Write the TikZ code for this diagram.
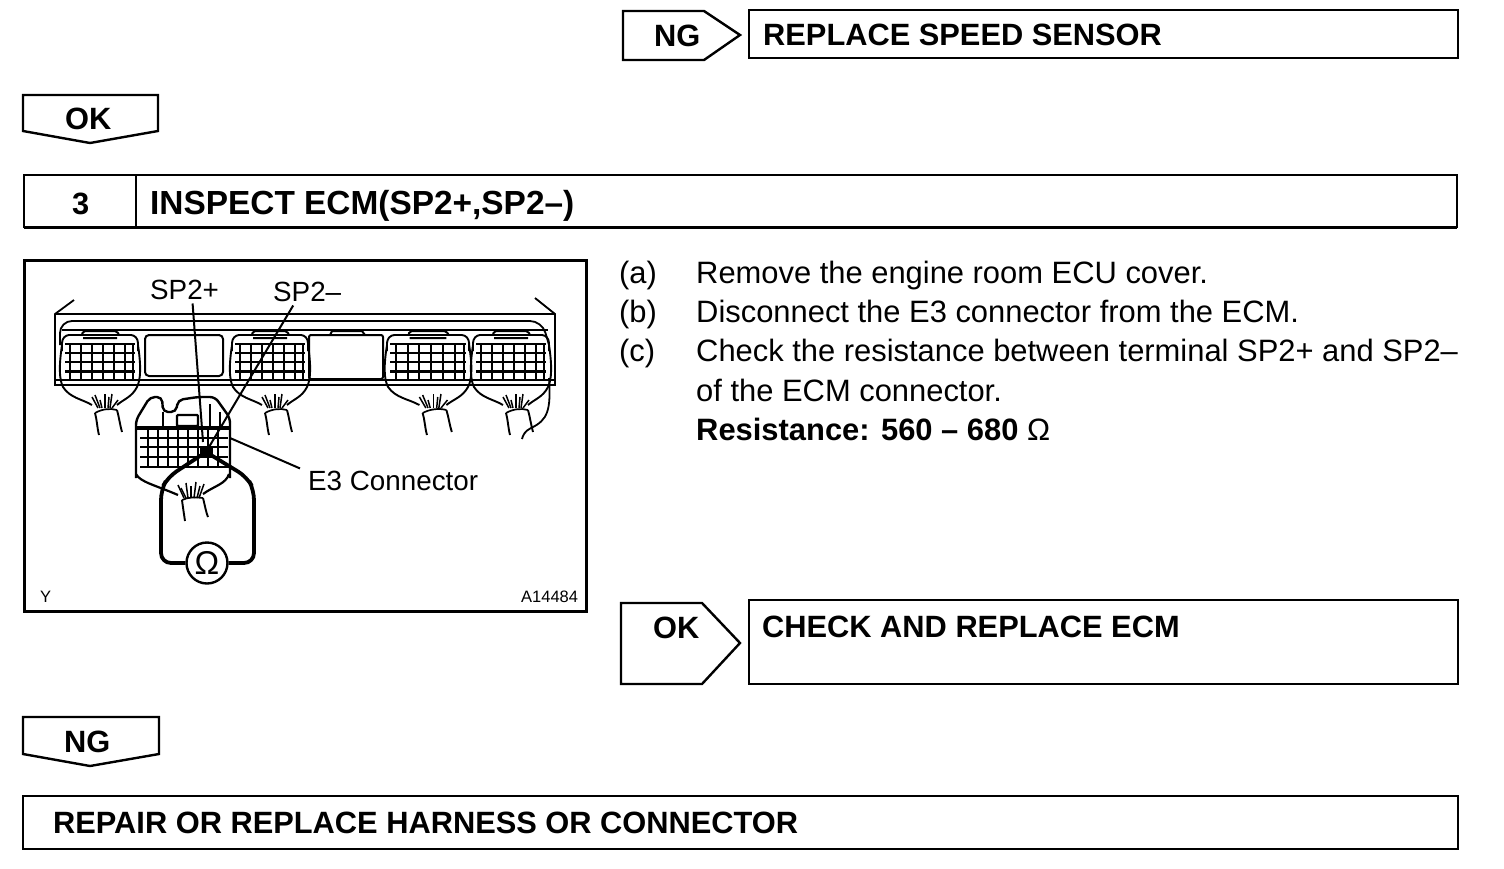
\documentclass[tikz,border=0pt]{standalone}
\usepackage{fontspec}
\setmainfont{Liberation Sans}
\tikzset{
    panel/.style = {draw, line width = 2.2pt, inner sep = 0pt, outer sep = 0pt},
    tagline/.style = {draw, line width = 2.4pt, line join = miter},
    boldtext/.style = {anchor = base west, inner sep = 0pt, font = \fontsize{30.8}{36}\selectfont\bfseries},
    plaintext/.style = {anchor = base west, inner sep = 0pt, font = \fontsize{30.9}{36}\selectfont},
    labeltext/.style = {anchor = base west, inner sep = 0pt, font = \fontsize{27.8}{32}\selectfont},
    tinytext/.style = {anchor = base west, inner sep = 0pt, font = \fontsize{16.5}{20}\selectfont},
    lead/.style = {draw, line width = 3.8pt, rounded corners = 10pt},
    leader/.style = {draw, line width = 2pt},
    % one plug of the ECM, origin at its top left corner
    ecmplug/.pic = {
        \draw[line width = 1.9pt, rounded corners = 3pt] (0,16) -- (0,5) -- (4,0) -- (72,0) -- (76,5) -- (76,16);
        \draw[line width = 2pt, rounded corners = 2pt] (20,0) -- (21,-4) -- (55,-4) -- (57,0) (21,3) -- (55,3);
        \foreach \rowy in {9,18,27,45} \draw[line width = 2pt] (3,\rowy) -- (73,\rowy);
        \draw[line width = 3pt] (3,36) -- (73,36);
        \foreach \colx in {8,19,30,41,52,63,71} \draw[line width = 2pt] (\colx,9) -- (\colx,45);
        \draw[line width = 1.9pt] (0,10) .. controls (-3,30) and (-3,44) .. (1,52) .. controls (8,63) and (20,64) .. (30,70);
        \draw[line width = 1.9pt] (76,10) .. controls (79,30) and (79,44) .. (75,52) .. controls (70,62) and (62,64) .. (55,70);
        \foreach \wx/\wy/\rx in {30/62/36,33/60/38,38/65/40,43/59/43,47/62/46,50/59/48,56/65/50} \draw[line width = 1.5pt] (\rx,73) -- (\wx,\wy);
        \draw[line width = 1.9pt] (33,78) .. controls (35,85) and (35,92) .. (37,100);
        \draw[line width = 1.9pt] (55,75) .. controls (57,82) and (58,90) .. (60,97);
        \draw[line width = 1.7pt] (33,78) .. controls (40,74) and (48,73) .. (55,75);
    },
}
\begin{document}
\begin{tikzpicture}[x=1pt, y=-1pt]
    \useasboundingbox (0,0) rectangle (1504,868);

    % top row
    \draw[tagline] (623,11) -- (704,11) -- (740,35) -- (704,60) -- (623,60) -- cycle;
    \node(ngright) [boldtext] at (654,46) {NG};
    \node(speedbox) [panel, minimum width = 709, minimum height = 48] at (1103.5,34) {};
    \node(speedtext) [boldtext] at (763,45) {REPLACE SPEED SENSOR};

    \draw[tagline] (23,95) -- (158,95) -- (158,131) -- (90,143) -- (23,131) -- cycle;
    \node(okdown) [boldtext] at (65,129) {OK};

    % step header
    \node(stepbox) [panel, minimum width = 1433, minimum height = 52] at (740.5,201) {};
    \draw[line width = 2.4pt] (136,175) -- (136,227);
    \draw[line width = 3pt] (24,227) -- (1457,227);
    \node(stepnum) [boldtext] at (72,214) {3};
    \node(steptext) [boldtext, font = \fontsize{33.4}{36}\selectfont\bfseries] at (150,214) {INSPECT ECM(SP2+,SP2--)};

    % illustration
    \node(frame) [panel, line width = 3pt, minimum width = 562, minimum height = 351] at (305,435.5) {};
    \draw[line width = 1.8pt] (74,300) -- (55,314) -- (55,385) -- (555,385) -- (555,314) -- (535,298);
    \draw[line width = 2.2pt] (55,314) -- (555,314);
    \draw[line width = 1.8pt, rounded corners = 12pt] (60,345) -- (60,321) -- (542,321) -- (549,345);
    \draw[line width = 1.8pt] (62,330) -- (548,330);
    \draw[line width = 1.8pt] (55,380) -- (555,380);
    \draw[line width = 2pt, rounded corners = 4pt, fill = white] (145,335) rectangle (223,376);
    \draw[line width = 2pt, rounded corners = 2pt, fill = white] (309,335) rectangle (383,379);
    \draw[line width = 2pt] (330,335) -- (332,331) -- (362,331) -- (365,335);
    \pic at (62,335) {ecmplug};
    \pic at (232,335) {ecmplug};
    \pic[xscale=1.08] at (387,335) {ecmplug};
    \pic at (473,335) {ecmplug};
    \draw[line width = 1.8pt] (549,378) .. controls (551,410) and (548,420) .. (531,428) .. controls (525,431) and (523,435) .. (522,439);

    % front plug
    \draw[line width = 2.4pt, rounded corners = 5pt] (136,478) -- (136,420) -- (150,397) -- (162,397) -- (163,412) -- (176,412) -- (178,400) -- (198,397) -- (215,397) -- (230,418) -- (230,478);
    \draw[line width = 2pt] (163,412) -- (163,428) (210,404) -- (210,428) (220,412) -- (220,428);
    \draw[line width = 2.4pt, rounded corners = 1pt] (177,415) rectangle (198,426);
    \draw[line width = 3.4pt] (137,428) -- (229,428);
    \foreach \rowy in {438,447,457,467} \draw[line width = 2pt] (140,\rowy) -- (228,\rowy);
    \foreach \colx in {148,158,168,178,188,198,208,218} \draw[line width = 2pt] (\colx,428) -- (\colx,468);
    \draw[line width = 2.2pt] (136,474) .. controls (140,482) and (155,485) .. (178,495);
    \draw[line width = 2.2pt] (229,474) .. controls (226,484) and (214,486) .. (203,494);
    \foreach \wx/\wy/\rx in {178/485/184,181/488/186,186/483/188,191/486/191,196/482/194,200/486/197,204/484/199} \draw[line width = 1.5pt] (\rx,498) -- (\wx,\wy);
    \draw[line width = 1.9pt] (182,500) .. controls (183,508) and (184,514) .. (185,521);
    \draw[line width = 1.9pt] (203,498) .. controls (205,506) and (206,512) .. (208,517);
    \draw[line width = 1.7pt] (182,500) .. controls (188,497) and (196,497) .. (203,498);

    \coordinate (probe) at (206,452);
    \fill (200,446) rectangle (213,458);
    \node(meter) [circle, draw, line width = 2.4pt, fill = white, minimum size = 41, inner sep = 0pt, font = \fontsize{33}{34}\selectfont] at (207,563) {Ω};
    \draw[lead] (probe) -- (168,477) -- (161,490) -- (161,563) -- (meter);
    \draw[lead] (probe) -- (247,477) -- (254,490) -- (254,563) -- (meter);

    \node(splus) [labeltext] at (150,299) {SP2+};
    \node(sminus) [labeltext] at (273,301) {SP2--};
    \node(ethree) [labeltext] at (308,490) {E3 Connector};
    \coordinate (pluspin) at (203,442);
    \coordinate (minuspin) at (209,447);
    \coordinate (ethreepin) at (230,438);
    \draw[leader] (splus.south) ++(8,4) -- (pluspin);
    \draw[leader] (sminus.south) ++(-14,4) -- (minuspin);
    \draw[leader] (ethree.west) ++(-8,-12) -- (ethreepin);
    \node(figy) [tinytext] at (40,602) {Y};
    \node(fignum) [tinytext] at (521,602) {A14484};

    % procedure
    \node(itema) [plaintext] at (619,283) {(a)};
    \node(itemb) [plaintext] at (619,322) {(b)};
    \node(itemc) [plaintext] at (619,361) {(c)};
    \node(texta) [plaintext] at (696,283) {Remove the engine room ECU cover.};
    \node(textb) [plaintext] at (696,322) {Disconnect the E3 connector from the ECM.};
    \node(textc) [plaintext] at (696,361) {Check the resistance between terminal SP2+ and SP2--};
    \node(textd) [plaintext] at (696,401) {of the ECM connector.};
    \node(texte) [boldtext, font = \fontsize{30.9}{36}\selectfont\bfseries] at (696,440) {Resistance: 560 -- 680 {\mdseries Ω}};

    % result row
    \draw[tagline] (621,603) -- (702,603) -- (740,643) -- (702,684) -- (621,684) -- cycle;
    \node(okright) [boldtext] at (653,638) {OK};
    \node(ecmbox) [panel, minimum width = 709, minimum height = 84] at (1103.5,642) {};
    \node(ecmtext) [boldtext] at (762,637) {CHECK AND REPLACE ECM};

    % bottom row
    \draw[tagline] (23,717) -- (159,717) -- (159,754) -- (90,766) -- (23,754) -- cycle;
    \node(ngdown) [boldtext] at (64,752) {NG};
    \node(harnessbox) [panel, minimum width = 1435, minimum height = 53] at (740.5,822.5) {};
    \node(harnesstext) [boldtext] at (53,833) {REPAIR OR REPLACE HARNESS OR CONNECTOR};
\end{tikzpicture}
\end{document}
